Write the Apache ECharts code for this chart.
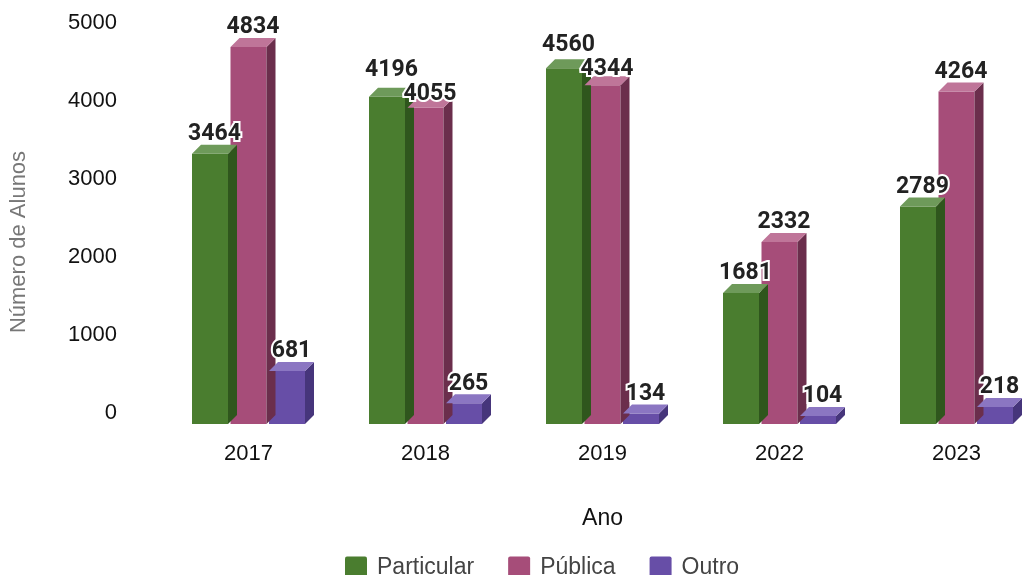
<!DOCTYPE html>
<html>
<head>
<meta charset="utf-8">
<title>Número de Alunos por Ano</title>
<script src="https://cdn.jsdelivr.net/npm/echarts@6/dist/echarts.min.js"></script>
<style>
  html, body { margin: 0; padding: 0; background: #fff; }
  #chart { width: 1030px; height: 575px; }
</style>
</head>
<body>
<div id="chart"></div>
<script>
// dados
var years = ['2017', '2018', '2019', '2022', '2023'];
var particular = [3464, 4196, 4560, 1681, 2789];
var publica = [4834, 4055, 4344, 2332, 4264];
var outro = [681, 265, 134, 104, 218];
var seriesNames = ['Particular', 'Pública', 'Outro'];

// cores: frente, topo, lateral
var palette = [
  { front: '#4a7d2f', top: '#6e9a5a', side: '#2f561d' },
  { front: '#a64d79', top: '#bf7599', side: '#6b2e4c' },
  { front: '#674ea7', top: '#8b76c2', side: '#46357b' }
];

var BAR_W = 36, GAP = 2.5, DX = 9, DY = 9;
var LABEL_H = 24;      // altura usada para evitar sobreposicao dos rotulos
var LABEL_LIFT = 8;    // distancia do rotulo acima da face frontal
var dataSets = [particular, publica, outro];

// deslocamento vertical de cada rotulo (calculado depois do primeiro render)
var labelShift = dataSets.map(function (arr) { return arr.map(function () { return 0; }); });

function makeRender(idx) {
  return function (params, api) {
    var cat = api.value(0);
    var val = api.value(1);
    var topPt = api.coord([cat, val]);
    var basePt = api.coord([cat, 0]);
    var groupW = 3 * BAR_W + 2 * GAP;
    var x0 = topPt[0] - groupW / 2 + idx * (BAR_W + GAP);
    var x1 = x0 + BAR_W;
    var y = topPt[1], b = basePt[1];
    var c = palette[idx];
    return {
      type: 'group',
      children: [
        {
          type: 'rect',
          z2: 1,
          shape: { x: x0, y: y, width: BAR_W, height: b - y },
          style: { fill: c.front }
        },
        {
          type: 'polygon',
          z2: 2,
          shape: { points: [[x1, y], [x1 + DX, y - DY], [x1 + DX, b - DY], [x1, b]] },
          style: { fill: c.side }
        },
        {
          type: 'polygon',
          z2: 3,
          shape: { points: [[x0, y], [x0 + DX, y - DY], [x1 + DX, y - DY], [x1, y]] },
          style: { fill: c.top }
        },
        {
          type: 'text',
          z2: 100,
          style: {
            text: String(val),
            x: x0 + BAR_W / 2 + DX / 2,
            y: y - LABEL_LIFT + labelShift[idx][params.dataIndex],
            align: 'center',
            verticalAlign: 'bottom',
            fontFamily: 'Roboto',
            fontWeight: 'bold',
            fontSize: 23,
            fill: '#222',
            stroke: '#fff',
            lineWidth: 4
          }
        }
      ]
    };
  };
}

var chart = echarts.init(document.getElementById('chart'), null, { renderer: 'canvas' });

var series = dataSets.map(function (arr, i) {
  return {
    name: seriesNames[i],
    type: 'custom',
    renderItem: makeRender(i),
    itemStyle: { color: palette[i].front },
    encode: { x: 0, y: 1 },
    data: arr.map(function (v, j) { return [j, v]; })
  };
});

var option = {
  animation: false,
  color: palette.map(function (p) { return p.front; }),
  textStyle: { fontFamily: 'Liberation Sans, Arial, sans-serif' },
  grid: { left: 160, top: 34, width: 885, height: 390, outerBoundsMode: 'none', containLabel: false },
  legend: {
    data: seriesNames,
    left: 340,
    top: 551,
    icon: 'path://M2,0 L20,0 Q22,0 22,2 L22,20 Q22,22 20,22 L2,22 Q0,22 0,20 L0,2 Q0,0 2,0 Z',
    itemWidth: 22,
    itemHeight: 22,
    itemGap: 34,
    textStyle: { fontSize: 23, color: '#444', padding: [0, 0, 0, 5] }
  },
  xAxis: {
    type: 'category',
    data: years,
    name: 'Ano',
    nameLocation: 'middle',
    nameGap: 83,
    nameTextStyle: { fontSize: 23, color: '#111' },
    axisLine: { show: false },
    axisTick: { show: false },
    axisLabel: { fontSize: 22, color: '#111', margin: 19 }
  },
  yAxis: {
    type: 'value',
    min: 0,
    max: 5000,
    interval: 1000,
    name: 'Número de Alunos',
    nameLocation: 'middle',
    nameGap: 130,
    nameTextStyle: { fontSize: 22, color: '#777', padding: [0, 26, 0, 0] },
    axisLine: { show: false },
    axisTick: { show: false },
    splitLine: { show: false },
    axisLabel: {
      fontSize: 22, color: '#111', margin: 43,
      verticalAlign: 'bottom', lineHeight: 22,
      formatter: function (v) { return String(v); }
    }
  },
  series: series
};

chart.setOption(option);

// afasta rotulos vizinhos que se sobrepoem na vertical
years.forEach(function (yr, j) {
  for (var s = 0; s < dataSets.length - 1; s++) {
    var a = chart.convertToPixel({ gridIndex: 0 }, [j, dataSets[s][j]])[1] + labelShift[s][j];
    var b = chart.convertToPixel({ gridIndex: 0 }, [j, dataSets[s + 1][j]])[1] + labelShift[s + 1][j];
    var overlap = LABEL_H - Math.abs(a - b);
    if (overlap > 0) {
      var dir = a < b ? -1 : 1;
      labelShift[s][j] += dir * overlap / 2;
      labelShift[s + 1][j] -= dir * overlap / 2;
    }
  }
});

chart.setOption(option, true);
</script>
</body>
</html>
